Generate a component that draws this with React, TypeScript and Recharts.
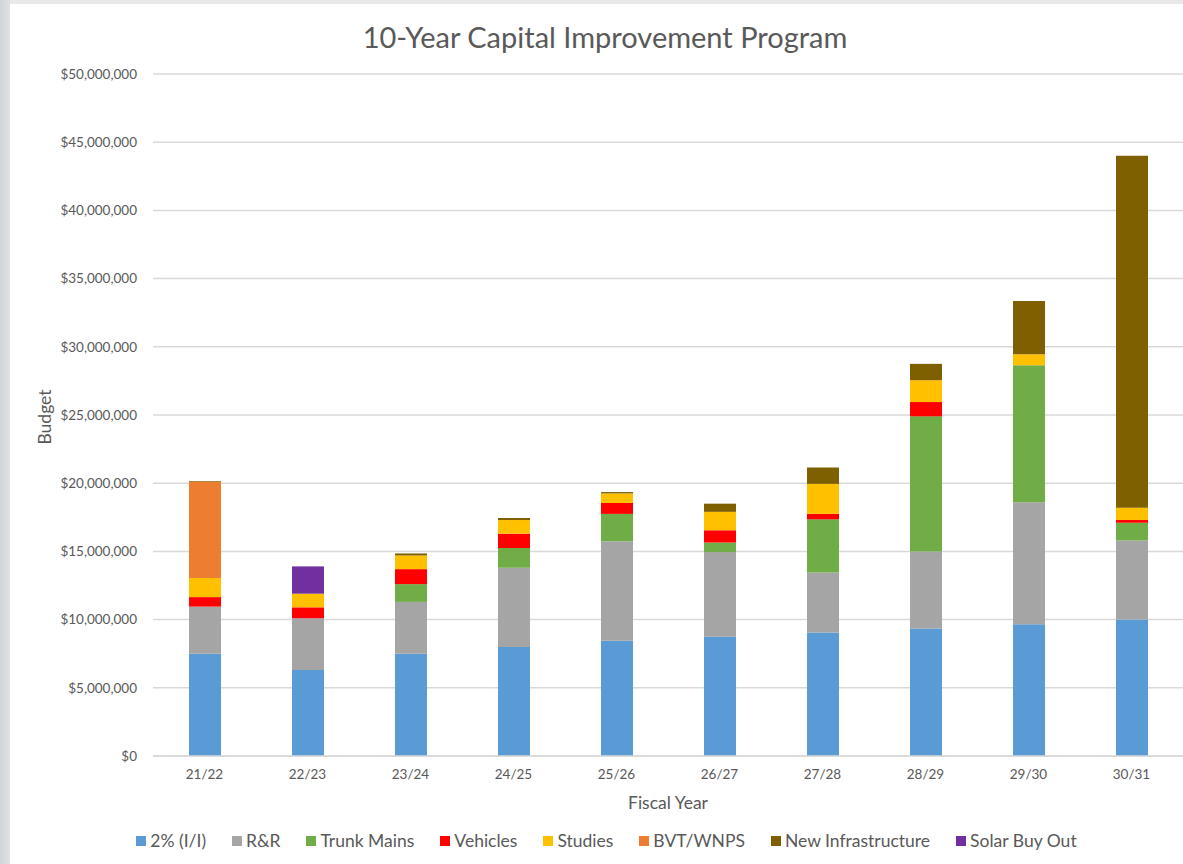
import { BarChart, Bar, XAxis, YAxis, CartesianGrid, Legend } from "recharts";

// fiscal years and budget per program (dollars)
const years = ["21/22", "22/23", "23/24", "24/25", "25/26", "26/27", "27/28", "28/29", "29/30", "30/31"];
const ii = [7500000, 6300000, 7500000, 8000000, 8450000, 8750000, 9050000, 9350000, 9650000, 10000000];
const rr = [3450000, 3800000, 3800000, 5800000, 7300000, 6200000, 4400000, 5650000, 8950000, 5800000];
const trunkMains = [0, 0, 1300000, 1450000, 2000000, 700000, 3900000, 9900000, 10050000, 1300000];
const vehicles = [700000, 800000, 1100000, 1050000, 800000, 900000, 400000, 1050000, 0, 200000];
const studies = [1400000, 1000000, 1000000, 1000000, 700000, 1350000, 2200000, 1600000, 800000, 900000];
const bvt = [7050000, 0, 0, 0, 0, 0, 0, 0, 0, 0];
const newInfra = [50000, 0, 150000, 150000, 100000, 600000, 1200000, 1200000, 3900000, 25800000];
const solar = [0, 2000000, 0, 0, 0, 0, 0, 0, 0, 0];
const yTicks = [0, 5000000, 10000000, 15000000, 20000000, 25000000, 30000000, 35000000, 40000000, 45000000, 50000000];

const series = [
  { key: "ii", name: "2% (I/I)", values: ii, color: "#5b9bd5" },
  { key: "rr", name: "R&R", values: rr, color: "#a5a5a5" },
  { key: "trunk", name: "Trunk Mains", values: trunkMains, color: "#70ad47" },
  { key: "vehicles", name: "Vehicles", values: vehicles, color: "#ff0000" },
  { key: "studies", name: "Studies", values: studies, color: "#ffc000" },
  { key: "bvt", name: "BVT/WNPS", values: bvt, color: "#ed7d31" },
  { key: "newInfra", name: "New Infrastructure", values: newInfra, color: "#7f6000" },
  { key: "solar", name: "Solar Buy Out", values: solar, color: "#7030a0" },
];

const data = years.map((year, i) => {
  const row: Record<string, string | number> = { year };
  series.forEach((s) => (row[s.key] = s.values[i]));
  return row;
});

const font = "Lato, 'Open Sans', sans-serif";
const textColor = "#595959";

// legend kept in series order (recharts sorts by name otherwise)
function LegendRow() {
  return (
    <div style={{ height: 46, boxSizing: "border-box", paddingTop: 24, display: "flex", justifyContent: "center", gap: 26, fontSize: 17.5, lineHeight: "24px", color: textColor, fontFamily: font, paddingLeft: 20 }}>
      {series.map((s) => (
        <div key={s.key} style={{ display: "flex", alignItems: "center" }}>
          <span style={{ display: "inline-block", width: 10, height: 10, background: s.color, marginRight: 4 }} />
          <span>{s.name}</span>
        </div>
      ))}
    </div>
  );
}

export default function App() {
  return (
    <div style={{ position: "absolute", left: 0, top: 0, width: 1183, height: 864, background: "#e7e8e9", overflow: "hidden", fontFamily: font }}>
      <div style={{ position: "absolute", left: 0, top: 0, width: 10, height: 864, background: "linear-gradient(to right, #cfd4d7, #dfe2e4)" }} />
      <div style={{ position: "absolute", left: 10, top: 4, width: 1173, height: 860, background: "#ffffff" }}>
        <div style={{ position: "absolute", left: 0, width: 1190, top: 15, textAlign: "center", fontSize: 29, color: textColor }}>
          10-Year Capital Improvement Program
        </div>
        <div style={{ position: "absolute", left: 34, top: 413, width: 0, height: 0 }}>
          <div style={{ position: "absolute", transform: "translate(-50%, -50%) rotate(-90deg)", fontSize: 17.5, color: textColor, whiteSpace: "nowrap" }}>
            Budget
          </div>
        </div>
        <BarChart width={1173} height={860} data={data} margin={{ top: 70, right: 0, left: 0, bottom: 12 }} barSize={32}>
          <CartesianGrid vertical={false} stroke="#d9d9d9" strokeWidth={1.5} />
          <XAxis
            dataKey="year"
            axisLine={{ stroke: "#d9d9d9", strokeWidth: 1.5 }}
            tickLine={false}
            tick={{ fill: textColor, fontSize: 13.5, fontFamily: font }}
            tickMargin={7}
            height={50}
            label={{ value: "Fiscal Year", position: "insideBottom", offset: -3, fill: textColor, fontSize: 17.5, fontFamily: font }}
          />
          <YAxis
            width={143}
            domain={[0, 50000000]}
            ticks={yTicks}
            axisLine={false}
            tickLine={false}
            tick={{ fill: textColor, fontSize: 13.5, fontFamily: font }}
            tickMargin={10}
            tickFormatter={(v: number) => "$" + v.toLocaleString("en-US")}
          />
          <Legend verticalAlign="bottom" content={() => <LegendRow />} />
          {series.map((s) => (
            <Bar key={s.key} dataKey={s.key} name={s.name} stackId="a" fill={s.color} isAnimationActive={false} />
          ))}
        </BarChart>
      </div>
    </div>
  );
}
